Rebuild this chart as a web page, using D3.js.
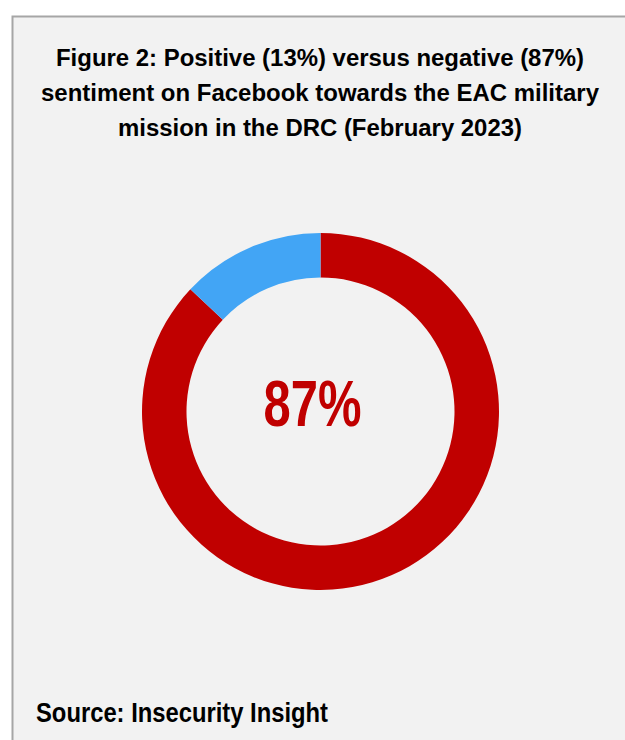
<!DOCTYPE html>
<html>
<head>
<meta charset="utf-8">
<script src="https://cdn.jsdelivr.net/npm/d3@7"></script>
<style>
  html, body { margin: 0; padding: 0; background: #fff; }
  svg text { font-family: "Liberation Sans", Arial, sans-serif; font-weight: bold; }
</style>
</head>
<body>
<div id="chart"></div>
<script>
var width = 625,
    height = 740;

// sentiment shares
var labels = ["Negative", "Positive"];
var shares = [87, 13];
var colors = ["#c00000", "#42a5f5"];

var titleLines = [
  "Figure 2: Positive (13%) versus negative (87%)",
  "sentiment on Facebook towards the EAC military",
  "mission in the DRC (February 2023)"
];
var sourceText = "Source: Insecurity Insight";

// the original uses a narrow bold face; squeeze Liberation Sans to the same widths
var titleWidths = [528, 558, 404];

var svg = d3.select("#chart").append("svg")
    .attr("width", width)
    .attr("height", height);

// panel background with border on top/left
svg.append("rect")
    .attr("x", 12.5)
    .attr("y", 16.5)
    .attr("width", width + 10)
    .attr("height", height + 10)
    .attr("fill", "#f2f2f2")
    .attr("stroke", "#a6a6a6")
    .attr("stroke-width", 2);

// title
svg.append("g").selectAll("text")
    .data(titleLines)
  .enter().append("text")
    .attr("x", 320)
    .attr("y", function (d, i) { return 66 + i * 35.2; })
    .attr("text-anchor", "middle")
    .attr("font-size", 24.7)
    .attr("textLength", function (d, i) { return titleWidths[i]; })
    .attr("lengthAdjust", "spacingAndGlyphs")
    .attr("fill", "#000")
    .text(function (d) { return d; });

var cx = 320.5, cy = 411.5,
    outerR = 178.5, innerR = 134;

var pie = d3.pie()
    .sort(null)
    .value(function (d) { return d; });

var arc = d3.arc()
    .innerRadius(innerR)
    .outerRadius(outerR);

var g = svg.append("g")
    .attr("transform", "translate(" + cx + "," + cy + ")");

g.selectAll("path")
    .data(pie(shares))
  .enter().append("path")
    .attr("d", arc)
    .attr("fill", function (d, i) { return colors[i]; });

// centre label = negative share
g.append("text")
    .attr("x", -8)
    .attr("y", 14.3)
    .attr("text-anchor", "middle")
    .attr("font-size", 64)
    .attr("textLength", 98)
    .attr("lengthAdjust", "spacingAndGlyphs")
    .attr("fill", colors[0])
    .text(shares[0] + "%");

svg.append("text")
    .attr("x", 36)
    .attr("y", 722)
    .attr("font-size", 27)
    .attr("textLength", 292)
    .attr("lengthAdjust", "spacingAndGlyphs")
    .attr("fill", "#000")
    .text(sourceText);
</script>
</body>
</html>
